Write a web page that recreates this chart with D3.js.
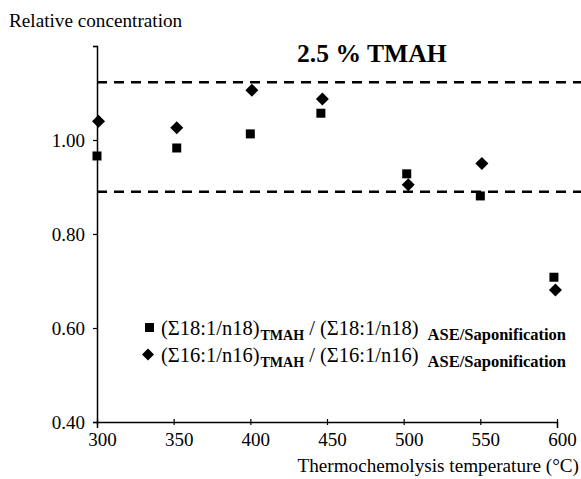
<!DOCTYPE html>
<html>
<head>
<meta charset="utf-8">
<script src="https://cdn.jsdelivr.net/npm/d3@7"></script>
<style>
  html, body { margin: 0; padding: 0; background: #fff; }
  svg { display: block; }
  svg text { font-family: "Liberation Serif", "Times New Roman", serif !important; }
</style>
</head>
<body>
<svg id="chart" width="581" height="479"></svg>
<script>
// ---- data ----
const seriesNames = ["Σ18:1/n18", "Σ16:1/n16"];
const tempsC18 = [300, 352, 400, 446, 502, 550, 598];
const valuesC18 = [0.966, 0.983, 1.013, 1.057, 0.928, 0.881, 0.708];
const tempsC16 = [301, 352, 401, 447, 503, 551, 599];
const valuesC16 = [1.040, 1.026, 1.106, 1.087, 0.905, 0.950, 0.681];
const refLines = [1.123, 0.890];
const xTicks = [300, 350, 400, 450, 500, 550, 600];
const yTicks = [0.40, 0.60, 0.80, 1.00, 1.20];
const yTickLabels = ["0.40", "0.60", "0.80", "1.00", ""];
const titleText = "2.5 % TMAH";
const yTitle = "Relative concentration";
const xTitle = "Thermochemolysis temperature (°C)";

// ---- layout ----
const FONT = '"Liberation Serif", "Times New Roman", serif';
const svg = d3.select("#chart");
const mLeft = 97, mRight = 557, mTop = 46, mBottom = 422;
const x = d3.scaleLinear().domain([300, 600]).range([mLeft, mRight]);
const y = d3.scaleLinear().domain([0.4, 1.2]).range([mBottom, mTop]);

// reference dashed lines
svg.selectAll("line.ref").data(refLines).join("line")
  .attr("class", "ref")
  .attr("x1", mLeft).attr("x2", 581)
  .attr("y1", d => y(d)).attr("y2", d => y(d))
  .attr("stroke", "#000").attr("stroke-width", 2.5)
  .attr("stroke-dasharray", "10,7");

// y axis
const yAxis = d3.axisLeft(y).tickValues(yTicks)
  .tickFormat((d, i) => yTickLabels[i]).tickSize(4).tickPadding(8);
const gy = svg.append("g").attr("transform", `translate(${mLeft},0)`).call(yAxis)
  .attr("font-family", null);
gy.select(".domain").attr("stroke", "#000").attr("stroke-width", 1.5);
gy.selectAll(".tick line").attr("stroke", "#000").attr("stroke-width", 1.2);
gy.selectAll(".tick text").style("font-size", "19px").attr("fill", "#000")
  .style("font-family", FONT);

// x axis
const xAxis = d3.axisBottom(x).tickValues(xTicks).tickSize(6).tickPadding(8);
const gx = svg.append("g").attr("transform", `translate(0,${mBottom})`).call(xAxis)
  .attr("font-family", null);
gx.select(".domain").attr("stroke", "#000").attr("stroke-width", 1.5);
gx.selectAll(".tick line").attr("stroke", "#000").attr("stroke-width", 1.2)
  .attr("y1", -3).attr("y2", 3);
gx.selectAll(".tick text").style("font-size", "19px").attr("fill", "#000")
  .style("font-family", FONT)
  .attr("dx", 5).attr("y", 11);

// markers
const sq = 9, dia = 6.5;
const c18 = tempsC18.map((t, i) => ({t, v: valuesC18[i]}));
const c16 = tempsC16.map((t, i) => ({t, v: valuesC16[i]}));
svg.selectAll("rect.c18").data(c18).join("rect")
  .attr("class", "c18")
  .attr("x", d => x(d.t) - sq / 2).attr("y", d => y(d.v) - sq / 2)
  .attr("width", sq).attr("height", sq).attr("fill", "#000");
svg.selectAll("path.c16").data(c16).join("path")
  .attr("class", "c16")
  .attr("d", d => {
    const cx = x(d.t), cy = y(d.v);
    return `M${cx},${cy - dia}L${cx + dia},${cy}L${cx},${cy + dia}L${cx - dia},${cy}Z`;
  })
  .attr("fill", "#000");

// titles
svg.append("text").attr("x", 9).attr("y", 27).style("font-size", "19.2px")
  .style("font-family", FONT).attr("fill", "#000").text(yTitle);
svg.append("text").attr("x", 579).attr("y", 472).attr("text-anchor", "end")
  .style("font-size", "19.2px").style("font-family", FONT).attr("fill", "#000").text(xTitle);
svg.append("text").attr("x", 297).attr("y", 62).style("font-size", "25.6px")
  .style("font-family", FONT).attr("font-weight", "bold").attr("fill", "#000").text(titleText);

// legend
const legendRows = [
  {name: seriesNames[0], shape: "square", cy: 327.5, base: 335},
  {name: seriesNames[1], shape: "diamond", cy: 354.5, base: 362}
];
legendRows.forEach(r => {
  if (r.shape === "square") {
    svg.append("rect").attr("x", 145).attr("y", r.cy - 4.5)
      .attr("width", 9).attr("height", 9).attr("fill", "#000");
  } else {
    svg.append("path")
      .attr("d", `M148,${r.cy - 6}L154,${r.cy}L148,${r.cy + 6}L142,${r.cy}Z`)
      .attr("fill", "#000");
  }
  const t = svg.append("text").attr("x", 161).attr("y", r.base)
    .style("font-size", "20.5px").style("font-family", FONT).attr("fill", "#000");
  t.append("tspan").text(`(${r.name})`);
  t.append("tspan").style("font-size", "14px").attr("font-weight", "bold")
    .attr("dx", 1).attr("dy", 5).text("TMAH");
  t.append("tspan").attr("dy", -5).text(` / (${r.name}) `);
  t.append("tspan").style("font-size", "16.5px").attr("font-weight", "bold")
    .attr("dx", 4).attr("dy", 5).text("ASE/Saponification");
});
</script>
</body>
</html>
